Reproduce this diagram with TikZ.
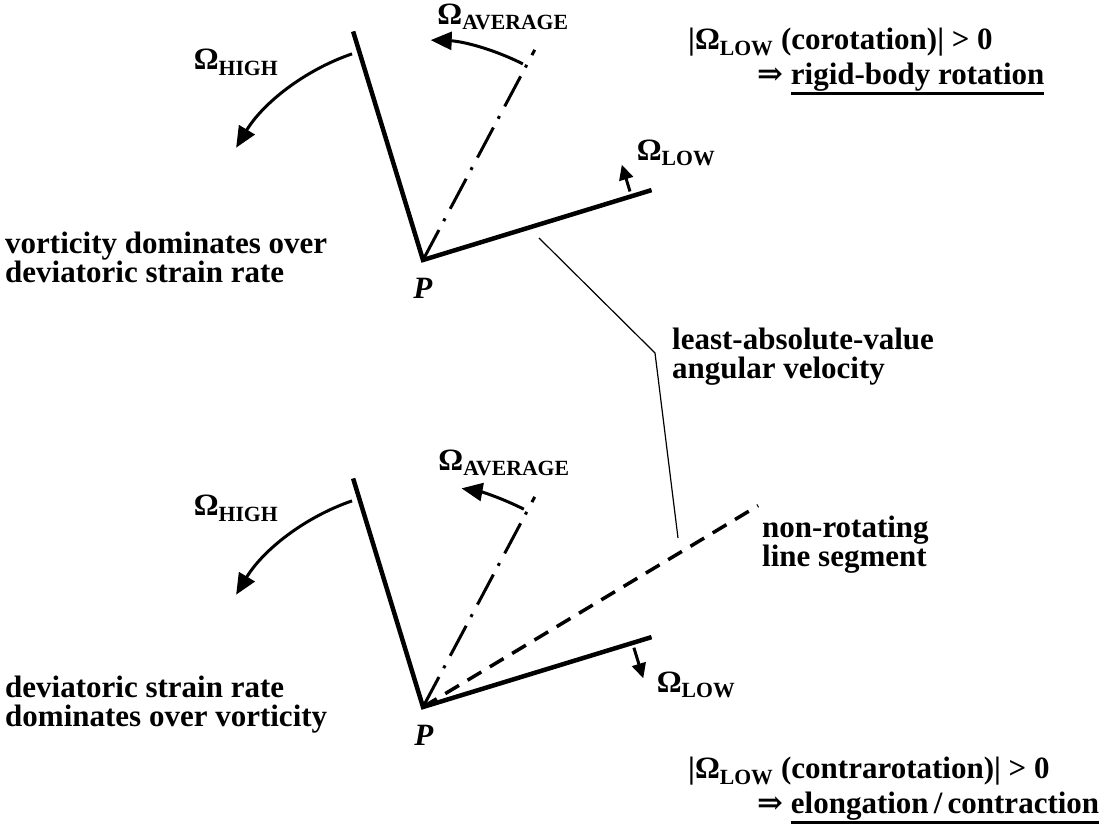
\documentclass[tikz,border=0pt]{standalone}
\usepackage{fontspec}
\setmainfont{Liberation Serif}
\newfontfamily\arrowfont{DejaVu Serif}
\usetikzlibrary{arrows.meta,calc}
\newcommand\omsub[1]{Ω\textsubscript{#1}}
\newcommand\undr[1]{\setbox0\hbox{#1}\rlap{\rule[-10pt]{\wd0}{2.5pt}}\box0}
\newcommand\impl{{\arrowfont\bfseries ⇒}}

\begin{document}
\begin{tikzpicture}[
  x=1pt, y=1pt,
  every node/.style={font=\bfseries\fontsize{31}{29}\selectfont, inner sep=0pt},
  limb/.style={line width=4.5pt},
  avgline/.style={line width=3pt, dash pattern=on 34pt off 10pt on 3pt off 11pt},
  fixline/.style={line width=3.5pt, dash pattern=on 16pt off 10pt},
  turn/.style={line width=3pt, -{Triangle[length=21pt,width=18pt]}},
  nudge/.style={line width=3pt, -{Triangle[length=15pt,width=14pt]}},
  leader/.style={line width=1.2pt}
]
\useasboundingbox (0,0) rectangle (1100,834);

% Upper sketch: vorticity wins
\coordinate (P1) at (423,574);
\coordinate (hi1) at ($(P1)+(107:239)$);
\coordinate (lo1) at ($(P1)+(17:239)$);
\coordinate (av1) at ($(P1)+(62:238)$);
\draw[limb] (hi1) -- (P1) -- (lo1);
\draw[avgline] (P1) -- (av1);
\draw[turn] ($(P1)+(109:218)$) arc[start angle=109, end angle=149, radius=218];
\draw[turn] ($(P1)+(63:220)$) arc[start angle=63, end angle=88, radius=220];
\draw[nudge] ($(P1)+(17:218)+(107:5)$) -- ++(107:28);

\node (oh1) at (236,772) {\omsub{HIGH}};
\node (oa1) at (503,817) {\omsub{AVERAGE}};
\node (ol1) at (676,681) {\omsub{LOW}};
\node (p1) at (423,546) {\textit{P}};
\node[anchor=west, align=left] (vort) at (5,577)
  {vorticity dominates over\\deviatoric strain rate};
\node[anchor=north west, align=left] (coro) at (688,806)
  {|\omsub{LOW} (corotation)| > 0\\[6pt]
   \hspace*{69pt}\impl{} \undr{rigid-body rotation}};

% Leader for the label in the middle
\coordinate (lt) at (539,596);
\coordinate (lk) at (655,481);
\coordinate (lb) at (678,296);
\draw[leader] (lt) -- (lk) -- (lb);
\node[anchor=west, align=left] (least) at (672,477)
  {least-absolute-value\\angular velocity};

% Lower sketch: strain rate wins
\coordinate (P2) at (423,127);
\coordinate (hi2) at ($(P2)+(107:239)$);
\coordinate (lo2) at ($(P2)+(17:239)$);
\coordinate (av2) at ($(P2)+(62:238)$);
\coordinate (nr2) at ($(P2)+(31:391)$);
\draw[fixline] (P2) -- (nr2);
\draw[limb] (hi2) -- (P2) -- (lo2);
\draw[avgline] (P2) -- (av2);
\draw[turn] ($(P2)+(109:218)$) arc[start angle=109, end angle=149, radius=218];
\draw[turn] ($(P2)+(63:222)$) arc[start angle=63, end angle=80, radius=222];
\draw[nudge] ($(P2)+(17:219)+(-73:5)$) -- ++(-73:32);

\node (oh2) at (236,326) {\omsub{HIGH}};
\node (oa2) at (504,371) {\omsub{AVERAGE}};
\node (ol2) at (696,149) {\omsub{LOW}};
\node (p2) at (424,99) {\textit{P}};
\node[anchor=west, align=left] (strain) at (5,129)
  {deviatoric strain rate\\dominates over vorticity};
\node[anchor=west, align=left] (nonrot) at (762,289)
  {non-rotating\\line segment};
\node[anchor=north west, align=left] (contra) at (688,77)
  {|\omsub{LOW} (contrarotation)| > 0\\[6pt]
   \hspace*{69pt}\impl{} \undr{elongation\,/\,contraction}};

\end{tikzpicture}
\end{document}
